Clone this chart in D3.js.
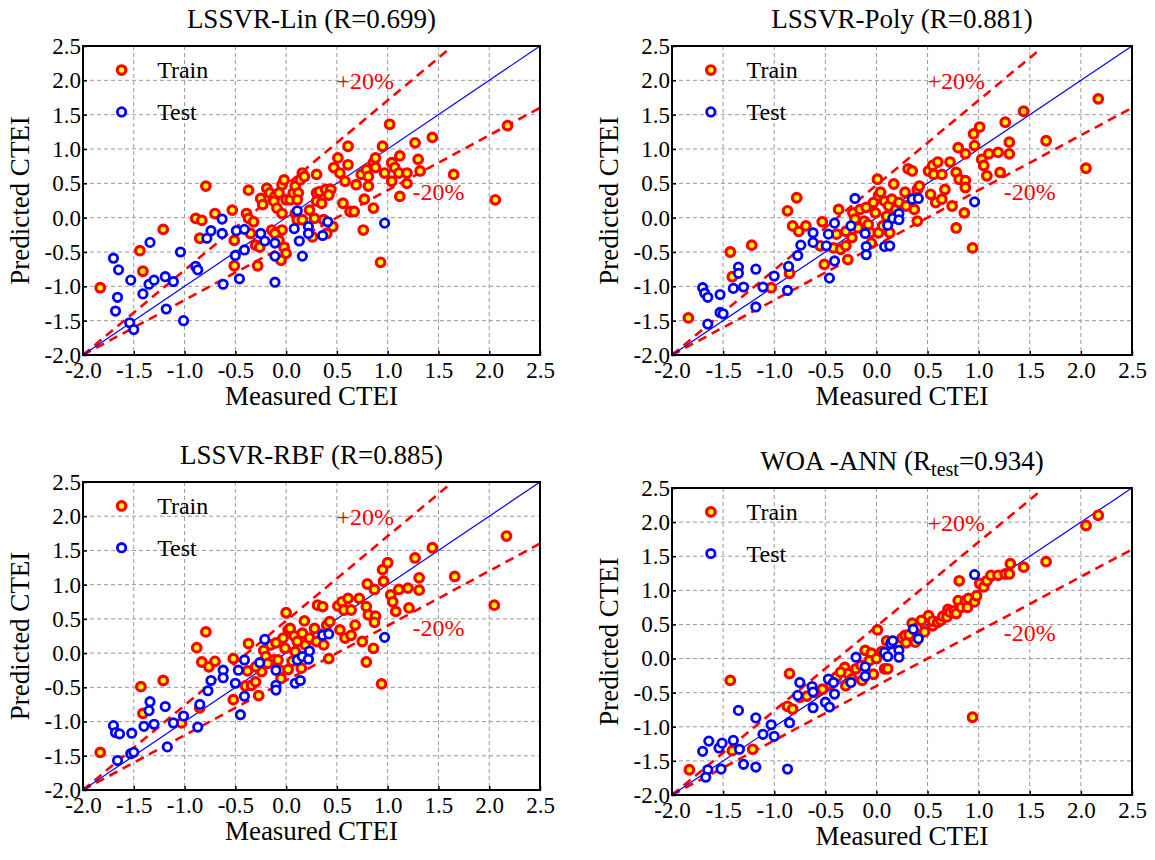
<!DOCTYPE html>
<html>
<head>
<meta charset="utf-8">
<script src="https://cdn.jsdelivr.net/npm/d3@7"></script>
<style>
  body { margin: 0; background: #fff; }
  svg, svg text { font-family: "Liberation Serif", "Times New Roman", serif; }
</style>
</head>
<body>
<svg width="1155" height="860"></svg>
<script>
// ---- data ----
const tickValues = [-2.0, -1.5, -1.0, -0.5, 0.0, 0.5, 1.0, 1.5, 2.0, 2.5];
const axisDomain = [-2, 2.5];

const panelTitles = ["LSSVR-Lin (R=0.699)", "LSSVR-Poly (R=0.881)", "LSSVR-RBF (R=0.885)", "WOA-ANN"];

// guide lines: y = x and the +/-20% bands
const idealLine = [[-2, -2], [2.5, 2.5]];
const upperBand = [[-2, -2], [1.6, 2.45]];
const lowerBand = [[-2, -2], [2.5, 1.6]];

const trainLin = [[-1.83,-1.02],[-1.21,-0.17],[-1.44,-0.48],[-1.41,-0.78],[-0.79,0.46],[-0.89,-0.01],[-0.83,-0.04],
  [-0.70,0.06],[-0.85,-0.30],[-0.53,0.11],[-0.51,-0.33],[-0.51,-0.70],[-0.37,0.40],[-0.39,0.06],[-0.37,-0.01],
  [-0.35,-0.23],[-0.32,-0.06],[-0.28,-0.70],[-0.30,-0.40],[-0.26,-0.43],[-0.25,0.28],[-0.23,0.19],[-0.19,0.43],
  [-0.16,0.36],[-0.11,0.31],[-0.12,0.24],[-0.09,0.14],[-0.14,-0.18],[-0.07,0.36],[-0.04,0.48],[-0.02,0.55],
  [0.0,0.26],[-0.04,0.06],[-0.04,-0.18],[-0.02,-0.43],[0.0,-0.52],[-0.05,-0.62],[-0.11,-0.23],[-0.07,-0.33],
  [0.04,0.26],[0.07,0.36],[0.09,0.46],[0.14,0.55],[0.16,0.65],[0.18,0.60],[0.12,0.36],[0.11,0.26],[0.09,0.06],
  [0.11,-0.03],[0.16,-0.03],[0.23,0.11],[0.28,-0.01],[0.26,-0.28],[0.30,0.63],[0.30,0.36],[0.33,0.38],[0.30,0.24],
  [0.35,0.21],[0.39,0.41],[0.44,0.41],[0.42,0.33],[0.37,-0.03],[0.46,-0.13],[0.40,-0.23],[0.47,0.73],[0.51,0.87],
  [0.53,0.65],[0.58,0.53],[0.61,1.04],[0.61,0.77],[0.56,0.21],[0.63,0.09],[0.67,0.09],[0.69,0.48],[0.74,0.63],
  [0.76,-0.18],[0.77,0.27],[0.79,0.70],[0.81,0.60],[0.81,0.46],[0.86,0.14],[0.86,0.80],[0.88,0.87],[0.88,0.73],
  [0.95,1.04],[0.97,0.65],[0.93,-0.65],[1.02,1.36],[1.04,0.80],[1.04,0.53],[1.07,0.73],[1.12,0.90],[1.12,0.31],
  [1.11,0.65],[1.19,0.65],[1.19,0.50],[1.27,1.09],[1.30,0.85],[1.32,0.68],[1.44,1.17],[1.65,0.63],[2.06,0.26],[2.18,1.34]];
const testLin = [[-1.70,-0.59],[-1.65,-0.76],[-1.66,-1.16],[-1.68,-1.36],[-1.53,-0.91],[-1.54,-1.53],[-1.50,-1.63],
  [-1.34,-0.36],[-1.35,-0.97],[-1.41,-1.11],[-1.30,-0.91],[-1.19,-0.86],[-1.11,-0.93],[-1.18,-1.33],[-1.04,-0.50],
  [-1.01,-1.50],[-0.89,-0.71],[-0.87,-0.76],[-0.78,-0.30],[-0.74,-0.19],[-0.63,-0.02],[-0.63,-0.23],[-0.62,-0.97],
  [-0.49,-0.19],[-0.41,-0.17],[-0.50,-0.55],[-0.41,-0.47],[-0.46,-0.89],[-0.25,-0.23],[-0.21,-0.34],[-0.11,-0.37],
  [-0.11,-0.56],[-0.11,-0.94],[0.08,-0.16],[0.11,0.10],[0.13,-0.34],[0.16,-0.56],[0.22,-0.13],[0.22,-0.23],
  [0.36,-0.26],[0.41,-0.06],[0.97,-0.08]];

const trainPoly = [[-1.84,-1.46],[-1.43,-0.50],[-1.41,-0.86],[-1.22,-0.40],[-0.87,0.10],[-0.78,0.29],[-0.82,-0.12],
  [-0.76,-0.20],[-0.69,-0.12],[-0.85,-0.81],[-1.03,-1.02],[-0.53,-0.06],[-0.51,-0.68],[-0.55,-0.41],[-0.37,0.12],
  [-0.42,-0.44],[-0.39,-0.24],[-0.35,-0.46],[-0.30,-0.41],[-0.24,-0.29],[-0.28,-0.61],[-0.23,0.07],[-0.16,0.12],
  [-0.21,-0.02],[-0.12,-0.05],[-0.06,-0.22],[-0.05,-0.37],[-0.03,0.22],[-0.01,0.07],[0.01,0.56],[0.02,0.32],
  [0.04,0.37],[0.08,0.24],[0.12,0.17],[0.10,0.02],[0.02,-0.22],[0.13,-0.22],[0.15,0.27],[0.17,0.49],[0.19,0.12],
  [0.22,0.22],[0.28,0.37],[0.29,0.17],[0.31,0.71],[0.35,0.68],[0.37,0.12],[0.40,0.41],[0.42,0.46],[0.40,-0.05],
  [0.51,0.68],[0.53,0.34],[0.55,0.76],[0.56,0.63],[0.60,0.81],[0.58,0.22],[0.64,0.27],[0.67,0.41],[0.64,0.63],
  [0.72,0.81],[0.74,0.17],[0.78,-0.15],[0.78,0.66],[0.80,1.02],[0.81,0.56],[0.87,0.93],[0.87,0.54],[0.87,0.44],
  [0.86,0.07],[0.94,-0.44],[0.95,1.22],[0.96,1.05],[1.01,1.32],[1.03,0.85],[1.05,0.76],[1.08,0.61],[1.10,0.93],
  [1.19,0.95],[1.21,0.66],[1.26,1.39],[1.30,1.10],[1.30,0.93],[1.44,1.55],[1.66,1.12],[2.05,0.72],[2.17,1.73],
  [-0.10,0.15],[-0.08,-0.10],[0.06,-0.12],[-0.18,-0.15],[-0.30,-0.20]];
const testPoly = [[-1.70,-1.02],[-1.68,-1.10],[-1.65,-1.16],[-1.65,-1.55],[-1.53,-1.12],[-1.53,-1.38],[-1.50,-1.40],
  [-1.35,-0.72],[-1.35,-0.81],[-1.40,-1.03],[-1.30,-1.01],[-1.18,-0.75],[-1.11,-1.01],[-1.18,-1.30],[-1.00,-0.85],
  [-0.86,-0.71],[-0.87,-1.06],[-0.77,-0.55],[-0.74,-0.40],[-0.62,-0.22],[-0.62,-0.36],[-0.41,-0.08],[-0.47,-0.24],
  [-0.49,-0.41],[-0.41,-0.63],[-0.46,-0.88],[-0.25,-0.12],[-0.21,0.28],[-0.11,-0.23],[-0.10,-0.42],[-0.10,-0.54],
  [0.08,-0.42],[0.13,-0.41],[0.11,-0.11],[0.16,-0.01],[0.22,0.06],[0.22,-0.03],[0.35,0.27],[0.41,0.28],[0.96,0.23]];

const trainRbf = [[-1.83,-1.45],[-1.43,-0.49],[-1.41,-0.88],[-1.21,-0.40],[-0.88,0.08],[-0.79,0.31],[-0.83,-0.13],
  [-0.76,-0.20],[-0.70,-0.12],[-0.85,-0.80],[-1.03,-1.02],[-0.52,-0.08],[-0.52,-0.68],[-0.37,0.14],[-0.40,-0.48],
  [-0.38,-0.26],[-0.34,-0.47],[-0.30,-0.42],[-0.24,-0.27],[-0.27,-0.62],[-0.22,0.04],[-0.15,0.12],[-0.20,-0.05],
  [-0.12,-0.10],[-0.06,-0.25],[-0.05,-0.37],[-0.03,0.22],[-0.01,0.07],[0.0,0.59],[0.02,0.34],[0.04,0.36],
  [0.08,0.25],[0.11,0.17],[0.09,0.02],[0.02,-0.24],[0.15,-0.22],[0.16,0.29],[0.18,0.47],[0.19,0.12],[0.23,0.22],
  [0.28,0.36],[0.30,0.17],[0.31,0.70],[0.36,0.68],[0.37,0.12],[0.40,0.41],[0.43,0.46],[0.42,-0.08],[0.51,0.69],
  [0.53,0.34],[0.55,0.75],[0.57,0.63],[0.61,0.80],[0.58,0.22],[0.64,0.26],[0.68,0.41],[0.64,0.63],[0.72,0.80],
  [0.75,0.17],[0.79,-0.13],[0.79,0.68],[0.80,1.01],[0.81,0.56],[0.87,0.93],[0.88,0.54],[0.87,0.45],[0.86,0.07],
  [0.94,-0.45],[0.95,1.22],[0.96,1.05],[1.00,1.32],[1.03,0.85],[1.05,0.75],[1.08,0.61],[1.11,0.93],[1.20,0.95],
  [1.21,0.66],[1.27,1.39],[1.31,1.10],[1.31,0.92],[1.44,1.54],[1.66,1.12],[2.05,0.70],[2.17,1.71],
  [-0.10,0.15],[-0.08,-0.10],[0.06,-0.12],[-0.18,-0.15],[-0.30,-0.20]];
const testRbf = [[-1.70,-1.06],[-1.68,-1.16],[-1.64,-1.18],[-1.66,-1.57],[-1.52,-1.17],[-1.53,-1.47],[-1.50,-1.45],
  [-1.34,-0.71],[-1.35,-0.84],[-1.40,-1.07],[-1.30,-1.04],[-1.19,-0.78],[-1.11,-1.02],[-1.17,-1.37],[-1.01,-0.92],
  [-0.85,-0.75],[-0.87,-1.08],[-0.77,-0.55],[-0.74,-0.40],[-0.62,-0.25],[-0.62,-0.36],[-0.41,-0.10],[-0.47,-0.25],
  [-0.50,-0.44],[-0.41,-0.63],[-0.45,-0.90],[-0.26,-0.14],[-0.21,0.20],[-0.10,-0.25],[-0.10,-0.47],[-0.10,-0.54],
  [0.09,-0.44],[0.14,-0.40],[0.11,-0.10],[0.16,-0.05],[0.23,0.03],[0.22,-0.09],[0.36,0.26],[0.42,0.28],[0.97,0.23]];

const trainAnn = [[-1.83,-1.63],[-1.43,-0.32],[-1.41,-1.35],[-1.21,-1.33],[-0.85,-0.22],[-0.87,-0.70],[-0.82,-0.74],
  [-0.75,-0.57],[-0.68,-0.55],[-0.53,-0.45],[-0.45,-0.38],[-0.39,-0.27],[-0.31,-0.13],[-0.28,-0.22],[-0.24,-0.30],
  [-0.30,-0.40],[-0.14,-0.32],[-0.11,0.12],[-0.05,0.08],[-0.03,-0.23],[-0.07,-0.03],[-0.20,-0.15],[0.01,0.42],
  [0.0,0.0],[0.05,0.10],[0.08,-0.15],[0.11,-0.15],[0.10,0.26],[0.17,0.22],[0.15,0.25],[0.22,0.22],[0.25,0.30],
  [0.28,0.34],[0.29,0.23],[0.35,0.52],[0.38,0.24],[0.40,0.45],[0.44,0.56],[0.47,0.39],[0.51,0.63],[0.55,0.48],
  [0.55,0.55],[0.60,0.53],[0.63,0.56],[0.65,0.62],[0.69,0.61],[0.70,0.72],[0.72,0.68],[0.76,0.70],[0.78,0.66],
  [0.80,0.85],[0.81,1.14],[0.83,0.75],[0.87,0.85],[0.89,0.75],[0.90,0.88],[0.94,-0.86],[0.96,0.83],[0.98,0.92],
  [1.01,1.10],[1.05,1.05],[1.08,1.14],[1.12,1.22],[1.19,1.22],[1.26,1.24],[1.30,1.24],[1.31,1.39],[1.44,1.34],
  [1.66,1.42],[2.05,1.95],[2.17,2.10],[-0.60,-0.50],[-0.35,-0.20],[-0.15,-0.10],[0.32,0.35]];
const testAnn = [[-1.70,-1.36],[-1.64,-1.21],[-1.65,-1.63],[-1.67,-1.74],[-1.54,-1.31],[-1.51,-1.24],[-1.52,-1.62],
  [-1.35,-0.76],[-1.40,-1.20],[-1.34,-1.33],[-1.30,-1.55],[-1.18,-0.87],[-1.18,-1.59],[-1.11,-1.11],[-1.03,-0.97],
  [-1.00,-1.14],[-0.85,-0.94],[-0.87,-1.62],[-0.77,-0.54],[-0.75,-0.35],[-0.63,-0.41],[-0.62,-0.49],[-0.62,-0.72],
  [-0.47,-0.30],[-0.50,-0.64],[-0.46,-0.71],[-0.42,-0.35],[-0.41,-0.52],[-0.25,-0.35],[-0.20,0.02],[-0.11,-0.12],
  [-0.11,-0.26],[0.08,0.09],[0.11,0.03],[0.14,0.22],[0.16,0.26],[0.22,0.12],[0.22,0.02],[0.36,0.43],[0.41,0.29],
  [0.96,1.23]];

// ---- layout ----
const RED = '#ff0000', YELLOW = '#ffff00', BLUE = '#0000ff';
const FONT = '"Liberation Serif", "Times New Roman", serif';

const panels = [
  { x0: 83,  x1: 540,  y0: 46,  y1: 355, title: panelTitles[0], train: trainLin,  test: testLin },
  { x0: 672, x1: 1132, y0: 46,  y1: 355, title: panelTitles[1], train: trainPoly, test: testPoly },
  { x0: 83,  x1: 540,  y0: 482, y1: 790, title: panelTitles[2], train: trainRbf,  test: testRbf },
  { x0: 672, x1: 1132, y0: 488, y1: 795, title: panelTitles[3], train: trainAnn,  test: testAnn, sub: true }
];

const svg = d3.select("svg");
const fmt = d => d.toFixed(1);

const trainMark = sel => sel.attr("r", 4.3).attr("fill", YELLOW).attr("stroke", RED).attr("stroke-width", 3.2);
const testMark = sel => sel.attr("r", 4.2).attr("fill", "#fff").attr("stroke", BLUE).attr("stroke-width", 2.8);

panels.forEach(p => {
  const x = d3.scaleLinear().domain(axisDomain).range([p.x0, p.x1]);
  const y = d3.scaleLinear().domain(axisDomain).range([p.y1, p.y0]);
  const g = svg.append("g");

  // grid
  g.selectAll(".gx").data(tickValues.slice(1, -1)).enter().append("line")
    .attr("x1", d => x(d)).attr("x2", d => x(d))
    .attr("y1", p.y0).attr("y2", p.y1)
    .attr("stroke", "#999").attr("stroke-width", 1).attr("stroke-dasharray", "4,3");
  g.selectAll(".gy").data(tickValues.slice(1, -1)).enter().append("line")
    .attr("y1", d => y(d)).attr("y2", d => y(d))
    .attr("x1", p.x0).attr("x2", p.x1)
    .attr("stroke", "#999").attr("stroke-width", 1).attr("stroke-dasharray", "4,3");

  // guide lines
  const line = d3.line().x(d => x(d[0])).y(d => y(d[1]));
  g.append("path").attr("d", line(upperBand)).attr("fill", "none")
    .attr("stroke", RED).attr("stroke-width", 2.6).attr("stroke-dasharray", "9,6");
  g.append("path").attr("d", line(lowerBand)).attr("fill", "none")
    .attr("stroke", RED).attr("stroke-width", 2.6).attr("stroke-dasharray", "9,6");
  g.append("path").attr("d", line(idealLine)).attr("fill", "none")
    .attr("stroke", BLUE).attr("stroke-width", 1.2);

  g.append("text").attr("x", x(0.78)).attr("y", y(2.0)).attr("dy", "0.35em")
    .attr("text-anchor", "middle").attr("fill", RED).attr("font-size", 24).text("+20%");
  g.append("text").attr("x", x(1.5)).attr("y", y(0.38)).attr("dy", "0.35em")
    .attr("text-anchor", "middle").attr("fill", RED).attr("font-size", 24).text("-20%");

  // points
  g.selectAll(".train").data(p.train).enter().append("circle")
    .attr("cx", d => x(d[0])).attr("cy", d => y(d[1])).call(trainMark);
  g.selectAll(".test").data(p.test).enter().append("circle")
    .attr("cx", d => x(d[0])).attr("cy", d => y(d[1])).call(testMark);

  // legend
  g.append("circle").attr("cx", x(-1.62)).attr("cy", y(2.15)).call(trainMark);
  g.append("text").attr("x", x(-1.27)).attr("y", y(2.15)).attr("dy", "0.35em")
    .attr("font-size", 24).text("Train");
  g.append("circle").attr("cx", x(-1.62)).attr("cy", y(1.54)).call(testMark);
  g.append("text").attr("x", x(-1.27)).attr("y", y(1.54)).attr("dy", "0.35em")
    .attr("font-size", 24).text("Test");

  // frame
  g.append("rect").attr("x", p.x0).attr("y", p.y0)
    .attr("width", p.x1 - p.x0).attr("height", p.y1 - p.y0)
    .attr("fill", "none").attr("stroke", "#000").attr("stroke-width", 2);

  // axes
  const ax = g.append("g").attr("transform", "translate(0," + p.y1 + ")")
    .call(d3.axisBottom(x).tickValues(tickValues).tickFormat(fmt).tickSizeInner(-4).tickSizeOuter(0).tickPadding(7));
  const ay = g.append("g").attr("transform", "translate(" + p.x0 + ",0)")
    .call(d3.axisLeft(y).tickValues(tickValues).tickFormat(fmt).tickSizeInner(-4).tickSizeOuter(0).tickPadding(2));
  [ax, ay].forEach(a => {
    a.attr("font-family", null).attr("font-size", null);
    a.select(".domain").remove();
    a.selectAll("text").style("font-family", FONT).style("font-size", "23px").attr("fill", "#000");
    a.selectAll("line").attr("stroke", "#000").attr("stroke-width", 1.5);
  });

  // titles
  const t = g.append("text").attr("x", (p.x0 + p.x1) / 2).attr("y", p.y0 - 18)
    .attr("text-anchor", "middle").attr("font-size", 27);
  if (p.sub) {
    t.append("tspan").text("WOA -ANN (R");
    t.append("tspan").attr("font-size", 20).attr("dy", 6).text("test");
    t.append("tspan").attr("dy", -6).text("=0.934)");
  } else {
    t.text(p.title);
  }
  g.append("text").attr("x", (p.x0 + p.x1) / 2).attr("y", p.y1 + 50)
    .attr("text-anchor", "middle").attr("font-size", 27).text("Measured CTEI");
  g.append("text")
    .attr("transform", "translate(" + (p.x0 - 54) + "," + ((p.y0 + p.y1) / 2) + ") rotate(-90)")
    .attr("text-anchor", "middle").attr("font-size", 27).text("Predicted CTEI");
});
</script>
</body>
</html>
